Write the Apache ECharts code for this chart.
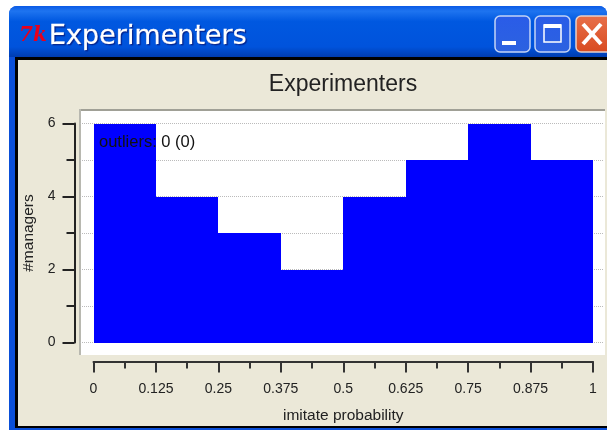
<!DOCTYPE html>
<html>
<head>
<meta charset="utf-8">
<style>
  html, body { margin: 0; padding: 0; background: #fff; }
  #chart { width: 607px; height: 430px; }
</style>
<script src="https://cdn.jsdelivr.net/npm/echarts@6/dist/echarts.min.js"></script>
</head>
<body>
<div id="chart"></div>
<script>
const binEdges = [0, 0.125, 0.25, 0.375, 0.5, 0.625, 0.75, 0.875, 1]
const managerCounts = [6, 4, 3, 2, 4, 5, 6, 5]
const chartTitle = 'Experimenters'
const outliersLabel = 'outliers: 0 (0)'

const font = '"Liberation Sans", Arial, sans-serif'
const textColor = '#222'
const bars = managerCounts.map((count, i) => [binEdges[i], binEdges[i + 1], count])

function vGradient(stops) {
  return {
    type: 'linear', x: 0, y: 0, x2: 0, y2: 1,
    colorStops: stops.map(s => ({ offset: s[0], color: s[1] }))
  }
}

// window frame, drawn behind the axes
function windowFrame() {
  const back = -10
  return [
    { type: 'rect', z: back, shape: { x: 9, y: 6, width: 598, height: 424, r: [8, 8, 0, 0] },
      style: { fill: '#0a4fd8' } },
    { type: 'rect', z: back, shape: { x: 9, y: 6, width: 598, height: 51, r: [8, 8, 0, 0] },
      style: { fill: vGradient([[0, '#0a5ae6'], [0.1, '#1e74f0'], [0.3, '#0058e0'], [0.8, '#0053dc'], [1, '#003cb0']]) } },
    { type: 'rect', z: back, shape: { x: 15, y: 57, width: 592, height: 371 }, style: { fill: '#000' } },
    { type: 'rect', z: back, shape: { x: 18, y: 60, width: 589, height: 366 }, style: { fill: '#ebe8d8' } },
    { type: 'rect', z: back, shape: { x: 79, y: 109, width: 526, height: 246 }, style: { fill: '#fff' } },
    { type: 'rect', z: back, shape: { x: 79, y: 109, width: 526, height: 2 }, style: { fill: '#a0a096' } },
    { type: 'rect', z: back, shape: { x: 79, y: 109, width: 2, height: 246 }, style: { fill: '#b8b8b0' } },
    { type: 'text', z: back, style: { x: 19, y: 26, text: '7k', fill: '#e8001c',
        font: 'italic bold 20px "DejaVu Serif", serif' } },
    { type: 'text', z: back, style: { x: 49, y: 23, text: chartTitle, fill: '#fff',
        font: '27px "DejaVu Sans", Tahoma, sans-serif', stroke: '#fff', lineWidth: 0.5,
        textShadowColor: '#00208c', textShadowBlur: 1, textShadowOffsetX: 1, textShadowOffsetY: 1 } },
    // minimise
    { type: 'rect', z: back, shape: { x: 495, y: 16, width: 35, height: 36, r: 5 },
      style: { fill: vGradient([[0, '#2a5ce8'], [1, '#2c62e0']]), stroke: '#c4d4f6', lineWidth: 1.5 } },
    { type: 'rect', z: back, shape: { x: 502, y: 41, width: 14, height: 4 }, style: { fill: '#fff' } },
    // maximise
    { type: 'rect', z: back, shape: { x: 535, y: 16, width: 35, height: 36, r: 5 },
      style: { fill: vGradient([[0, '#2a5ce8'], [1, '#2c62e0']]), stroke: '#c4d4f6', lineWidth: 1.5 } },
    { type: 'rect', z: back, shape: { x: 544, y: 25, width: 17, height: 17 },
      style: { fill: 'none', stroke: '#fff', lineWidth: 1.5 } },
    { type: 'rect', z: back, shape: { x: 544, y: 24, width: 17, height: 4 }, style: { fill: '#fff' } },
    // close
    { type: 'rect', z: back, shape: { x: 576, y: 16, width: 36, height: 36, r: 5 },
      style: { fill: vGradient([[0, '#e8704a'], [1, '#d84a20']]), stroke: '#e8d0c8', lineWidth: 1.5 } },
    { type: 'line', z: back, shape: { x1: 583, y1: 24, x2: 601, y2: 44 }, style: { stroke: '#fff', lineWidth: 4 } },
    { type: 'line', z: back, shape: { x1: 601, y1: 24, x2: 583, y2: 44 }, style: { stroke: '#fff', lineWidth: 4 } }
  ]
}

const chart = echarts.init(document.getElementById('chart'), null, { renderer: 'canvas' })
chart.setOption({
  animation: false,
  backgroundColor: '#fff',
  title: {
    text: chartTitle,
    left: 338,
    top: 68,
    textAlign: 'center',
    textStyle: { fontFamily: font, fontSize: 23, fontWeight: 'normal', color: textColor }
  },
  graphic: { elements: windowFrame().concat([
    { type: 'text', z: 50, style: { x: 99, y: 134, text: outliersLabel, fill: '#111',
        font: '16.5px ' + font } }
  ]) },
  grid: [
    { left: 93.5, top: 123.5, width: 499.5, height: 219 },
    { left: 80, top: 123.5, width: 523, height: 219 }
  ],
  xAxis: [
    {
      type: 'value',
      gridIndex: 0,
      min: 0,
      max: 1,
      interval: 0.125,
      position: 'bottom',
      offset: 19,
      name: 'imitate probability',
      nameLocation: 'middle',
      nameGap: 46,
      nameTextStyle: { fontFamily: font, fontSize: 15.5, color: textColor },
      axisLine: { show: true, onZero: false, lineStyle: { color: '#333', width: 2 } },
      axisTick: { show: true, length: 11, lineStyle: { color: '#333', width: 2 } },
      minorTick: { show: true, splitNumber: 2, length: 7, lineStyle: { color: '#333', width: 2 } },
      axisLabel: { margin: 21, fontFamily: font, fontSize: 14, color: textColor,
        showMinLabel: true, showMaxLabel: true },
      splitLine: { show: false }
    },
    { type: 'value', gridIndex: 1, min: 0, max: 1, show: false }
  ],
  yAxis: [
    {
      type: 'value',
      gridIndex: 0,
      min: 0,
      max: 6,
      interval: 2,
      position: 'left',
      offset: 19,
      name: '#managers',
      nameLocation: 'middle',
      nameGap: 36,
      nameTextStyle: { fontFamily: font, fontSize: 15.5, color: textColor },
      axisLine: { show: true, onZero: false, lineStyle: { color: '#222', width: 2 } },
      axisTick: { show: true, length: 12, lineStyle: { color: '#222', width: 2 } },
      minorTick: { show: true, splitNumber: 2, length: 8, lineStyle: { color: '#222', width: 2 } },
      axisLabel: { margin: 19, fontFamily: font, fontSize: 14, color: textColor,
        showMinLabel: true, showMaxLabel: true },
      splitLine: { show: false }
    },
    {
      type: 'value',
      gridIndex: 1,
      min: 0,
      max: 6,
      interval: 2,
      axisLine: { show: false },
      axisTick: { show: false },
      axisLabel: { show: false },
      splitLine: { show: true, lineStyle: { color: '#bbb', type: [1, 1], width: 1 } },
      minorSplitLine: { show: true, lineStyle: { color: '#bbb', type: [1, 1], width: 1 } },
      minorTick: { show: false, splitNumber: 2 }
    }
  ],
  series: [{
    type: 'custom',
    xAxisIndex: 0,
    yAxisIndex: 0,
    data: bars,
    encode: { x: [0, 1], y: 2 },
    renderItem(params, api) {
      // snap to whole pixels so neighbouring bars leave no seam
      const left = Math.round(api.coord([api.value(0), 0])[0])
      const right = Math.round(api.coord([api.value(1), 0])[0])
      const top = Math.round(api.coord([0, api.value(2)])[1])
      const bottom = Math.round(api.coord([0, 0])[1])
      return {
        type: 'rect',
        shape: { x: left, y: top, width: right - left, height: bottom - top },
        style: { fill: '#0000ff' }
      }
    }
  }]
})
</script>
</body>
</html>
